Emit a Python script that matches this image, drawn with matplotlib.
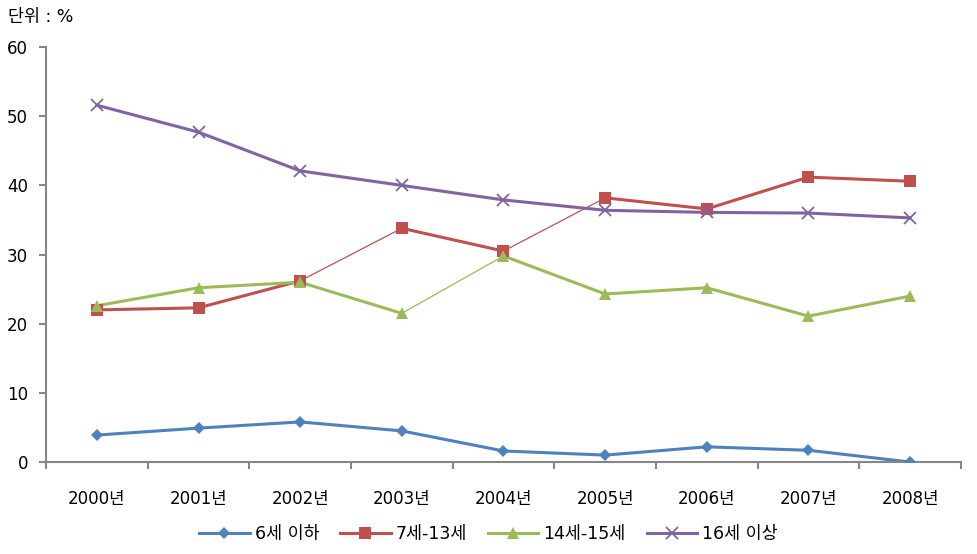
import matplotlib.pyplot as plt
from matplotlib.lines import Line2D
import numpy as np

plt.rcParams['font.family'] = ['DejaVu Sans', 'Noto Sans CJK KR']

years = ['2000년', '2001년', '2002년', '2003년', '2004년', '2005년', '2006년', '2007년', '2008년']
labels = ['6세 이하', '7세-13세', '14세-15세', '16세 이상']
under6 = [3.9, 4.9, 5.8, 4.5, 1.6, 1.0, 2.2, 1.7, 0.0]
age7_13 = [22.0, 22.3, 26.2, 33.8, 30.5, 38.2, 36.6, 41.2, 40.6]
age14_15 = [22.6, 25.2, 26.0, 21.5, 29.8, 24.3, 25.2, 21.1, 24.0]
over16 = [51.6, 47.7, 42.1, 40.0, 37.9, 36.4, 36.1, 36.0, 35.3]

# segments drawn thin in the original (index of segment start)
thin_segs = [[], [2, 4], [3], []]

colors = ['#4F81BD', '#C0504D', '#9BBB59', '#8064A2']
markers = ['D', 's', '^', 'x']
msizes = [6.5, 8, 8.5, 9]

fig = plt.figure(figsize=(9.77, 5.54), dpi=100)
ax = fig.add_axes([0.0471, 0.166, 0.9365, 0.749])

x = np.arange(len(years))
handles = []
for vals, lab, c, m, ms, thin in zip([under6, age7_13, age14_15, over16], labels,
                                      colors, markers, msizes, thin_segs):
    for i in range(len(vals) - 1):
        lw = 0.9 if i in thin else 2.2
        ax.plot(x[i:i + 2], vals[i:i + 2], color=c, lw=lw, solid_capstyle='round', zorder=2)
    ax.plot(x, vals, ls='none', marker=m, ms=ms, color=c, mew=1.3 if m == 'x' else 0, zorder=3)
    handles.append(Line2D([], [], color=c, lw=2.2, marker=m, ms=ms, mew=1.3 if m == 'x' else 0))

ax.set_xlim(-0.5, len(years) - 0.5)
ax.set_ylim(0, 60)
ax.set_yticks(range(0, 61, 10))
ax.set_xticks(x)
ax.set_xticklabels(years)
ax.set_xticks(np.arange(-0.5, len(years), 1), minor=True)

for s in ['top', 'right']:
    ax.spines[s].set_visible(False)
for s in ['left', 'bottom']:
    ax.spines[s].set_color('#868686')
    ax.spines[s].set_linewidth(1.5)

ax.tick_params(axis='y', length=5, width=1.5, color='#868686', labelsize=12, pad=8)
ax.tick_params(axis='x', which='major', length=0, labelsize=12, pad=20)
ax.tick_params(axis='x', which='minor', length=5, width=1.5, color='#868686')

fig.text(0.008, 0.97, '단위 : %', fontsize=12.5, ha='left', va='center')

fig.legend(handles, labels, loc='center', bbox_to_anchor=(0.5, 0.036), ncol=4,
           frameon=False, fontsize=12.5, handlelength=2.9, columnspacing=1.2, handletextpad=0.3)

fig.savefig('out.png', dpi=100)
